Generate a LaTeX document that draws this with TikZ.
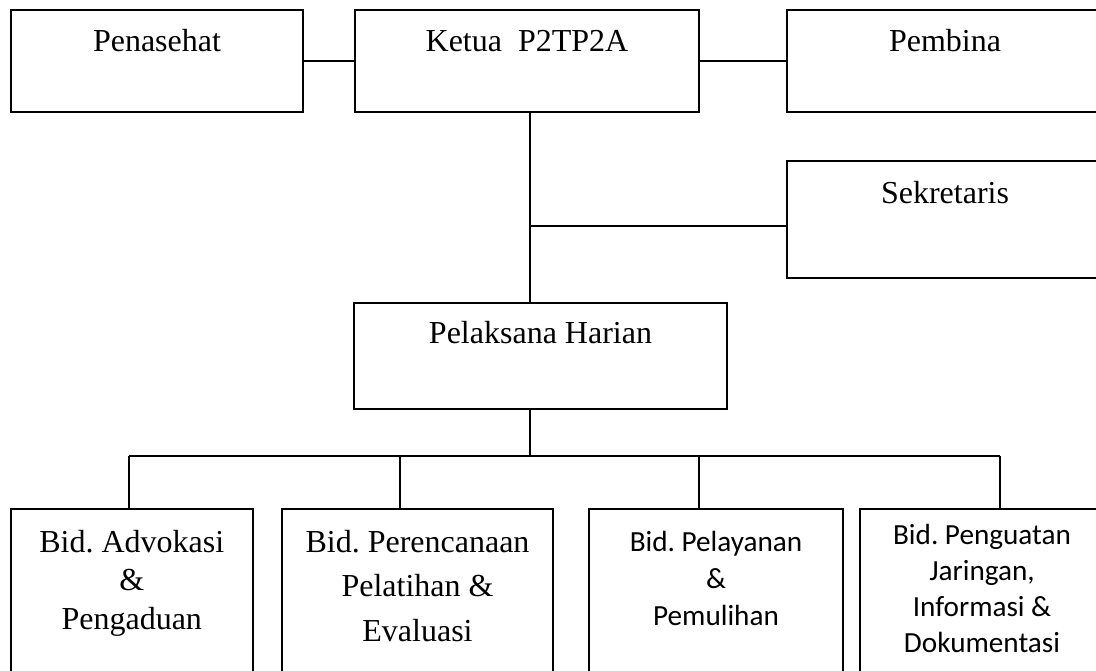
\documentclass[tikz,border=0pt]{standalone}
\usepackage{fontspec}
\setmainfont{Liberation Serif}
\newfontfamily\calibri{Carlito}
\usepackage{tikz}
\usetikzlibrary{calc}

\tikzset{
    box/.style={draw, line width=1pt, inner sep=0pt},
    link/.style={line width=1pt},
    lbl/.style={anchor=base, align=center, inner sep=0pt, font=\frenchspacing\fontsize{16}{19.25}\selectfont},
    clbl/.style={anchor=base, align=center, inner sep=0pt, font=\frenchspacing\calibri\fontsize{14.6}{18.5}\selectfont},
}

\begin{document}
\begin{tikzpicture}[x=0.5pt, y=-0.5pt]
    \useasboundingbox (0,0) rectangle (1096,670);
    \clip (0,0) rectangle (1096,670);

    \node[box, minimum width=146.25pt, minimum height=51.25pt] (penasehat) at (157,61) {};
    \node[box, minimum width=172pt, minimum height=51.25pt] (ketua) at (527,61) {};
    \node[box, minimum width=158pt, minimum height=51.25pt] (pembina) at (945,61) {};
    \node[box, minimum width=158pt, minimum height=58.5pt] (sekretaris) at (945,219.5) {};
    \node[box, minimum width=186.5pt, minimum height=53pt] (pelaksana) at (540.5,356) {};

    \node[box, minimum width=121.25pt, minimum height=100pt] (advokasi) at (131.75,609) {};
    \node[box, minimum width=135.5pt, minimum height=100pt] (perencanaan) at (417.5,609) {};
    \node[box, minimum width=127pt, minimum height=100pt] (pelayanan) at (716,609) {};
    \node[box, minimum width=122pt, minimum height=100pt] (penguatan) at (982,609) {};

    \node[lbl] (penasehat-t) at ($(penasehat.north)+(0,42.5)$) {Penasehat};
    \node[lbl] (ketua-t) at ($(ketua.north)+(0,42.5)$) {Ketua\ \ P2TP2A};
    \node[lbl] (pembina-t) at ($(pembina.north)+(0,42.5)$) {Pembina};
    \node[lbl] (sekretaris-t) at ($(sekretaris.north)+(0,43)$) {Sekretaris};
    \node[lbl] (pelaksana-t) at ($(pelaksana.north)+(0,41)$) {Pelaksana Harian};

    % base of a multi-line node is its last line
    \node[lbl] (advokasi-t) at ($(advokasi.north)+(0,121)$) {Bid. Advokasi\\\&\\Pengaduan};
    \node[lbl, font=\frenchspacing\fontsize{16}{22.25}\selectfont] (perencanaan-t) at ($(perencanaan.north)+(0,133)$) {Bid. Perencanaan\\Pelatihan \&\\Evaluasi};
    \node[clbl] (pelayanan-t) at ($(pelayanan.north)+(0,117)$) {Bid. Pelayanan\\\&\\Pemulihan};
    \node[clbl, font=\frenchspacing\calibri\fontsize{14.6}{18}\selectfont] (penguatan-t) at ($(penguatan.north)+(0,144)$) {Bid. Penguatan\\Jaringan,\\Informasi \&\\Dokumentasi};

    \coordinate (spine) at (530,0);
    \coordinate (sekjoin) at (530,226);
    \coordinate (bus) at (530,456);
    \coordinate (busL) at (129,456);
    \coordinate (busR) at (1000,456);

    \draw[link] (penasehat) -- (ketua);
    \draw[link] (ketua) -- (pembina);
    \draw[link] (ketua.south -| spine) -- (pelaksana.north -| spine);
    \draw[link] (sekjoin) -- (sekjoin -| sekretaris.west);
    \draw[link] (pelaksana.south -| bus) -- (bus);
    \draw[link] (busL) -- (busR);
    \foreach \b/\x in {advokasi/129, perencanaan/400, pelayanan/699, penguatan/1000} {
        \coordinate (drop) at (\x,456);
        \draw[link] (drop) -- (drop |- \b.north);
    }
\end{tikzpicture}
\end{document}
